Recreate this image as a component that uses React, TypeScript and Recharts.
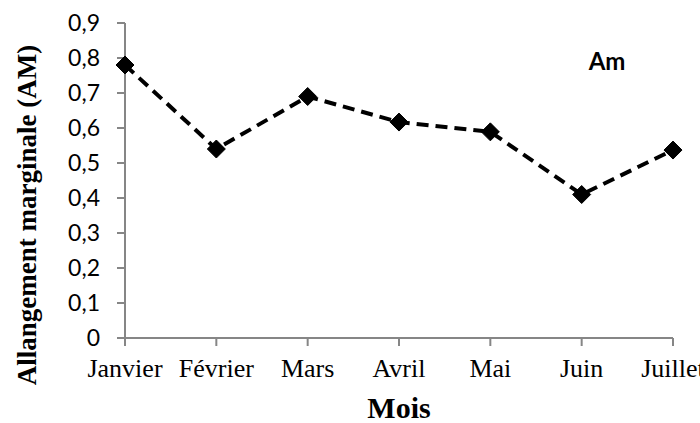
import React from 'react';
import { LineChart, Line, XAxis, YAxis } from 'recharts';

const months = ['Janvier', 'Février', 'Mars', 'Avril', 'Mai', 'Juin', 'Juillet'];
const amValues = [0.78, 0.54, 0.69, 0.617, 0.589, 0.41, 0.537];
const yTicks = [0, 0.1, 0.2, 0.3, 0.4, 0.5, 0.6, 0.7, 0.8, 0.9];
const yTickLabels = ['0', '0,1', '0,2', '0,3', '0,4', '0,5', '0,6', '0,7', '0,8', '0,9'];

const data = months.map((m, i) => ({ mois: m, am: amValues[i] }));

const AXIS_COLOR = '#868686';

const Diamond = (props: any) => {
  const { cx, cy } = props;
  if (cx == null || cy == null) return null;
  const r = 9;
  return (
    <polygon
      points={`${cx},${cy - r} ${cx + r},${cy} ${cx},${cy + r} ${cx - r},${cy}`}
      fill="#000"
      stroke="#000"
      strokeWidth={1}
    />
  );
};

const XTick = (props: any) => {
  const { x, y, payload } = props;
  return (
    <text x={x} y={y} dy={31} textAnchor="middle" fontFamily="'Liberation Serif', 'Times New Roman', serif" fontSize={26} fill="#000">
      {payload.value}
    </text>
  );
};

const YTick = (props: any) => {
  const { x, y, payload } = props;
  const idx = yTicks.findIndex((t) => Math.abs(t - payload.value) < 1e-9);
  const label = idx >= 0 ? yTickLabels[idx] : String(payload.value);
  return (
    <text x={x} y={y} dy="0.36em" textAnchor="end" fontFamily="Lato, 'Open Sans', sans-serif" fontSize={23} fill="#000">
      {label}
    </text>
  );
};

export default function App() {
  return (
    <div style={{ position: 'absolute', left: 0, top: 0, width: 700, height: 423, background: '#fff' }}>
      <LineChart width={700} height={423} data={data} margin={{ top: 23, right: 27, bottom: 25, left: 0 }}>
        <XAxis
          dataKey="mois"
          height={60}
          axisLine={{ stroke: AXIS_COLOR, strokeWidth: 2 }}
          tickLine={{ stroke: AXIS_COLOR, strokeWidth: 2 }}
          tickSize={8}
          tickMargin={0}
          tick={<XTick />}
          interval={0}
          label={{
            content: () => (
              <text x={399} y={418} textAnchor="middle" fontFamily="'Liberation Serif', 'Times New Roman', serif" fontWeight="bold" fontSize={30} fill="#000">
                Mois
              </text>
            ),
          }}
        />
        <YAxis
          width={125}
          domain={[0, 0.9]}
          ticks={yTicks}
          axisLine={{ stroke: AXIS_COLOR, strokeWidth: 2 }}
          tickLine={{ stroke: AXIS_COLOR, strokeWidth: 2 }}
          tickSize={8}
          tickMargin={17}
          tick={<YTick />}
          interval={0}
          label={{
            content: () => (
              <text
                x={27}
                y={215}
                transform="rotate(-90 27 215)"
                textAnchor="middle"
                dominantBaseline="central"
                fontFamily="'Liberation Serif', 'Times New Roman', serif"
                fontWeight="bold"
                fontSize={27}
                fill="#000"
              >
                Allangement marginale (AM)
              </text>
            ),
          }}
        />
        <Line
          type="linear"
          dataKey="am"
          stroke="#000"
          strokeWidth={4}
          strokeDasharray="12 7"
          dot={<Diamond />}
          activeDot={false}
          isAnimationActive={false}
          label={(p: any) =>
            p.index === 0 ? (
              <text key="am-title" x={607} y={70} textAnchor="middle" fontFamily="Lato, 'Open Sans', sans-serif" fontWeight="bold" fontSize={24} fill="#000">
                Am
              </text>
            ) : (
              <g key={`l${p.index}`} />
            )
          }
        />
      </LineChart>
    </div>
  );
}
